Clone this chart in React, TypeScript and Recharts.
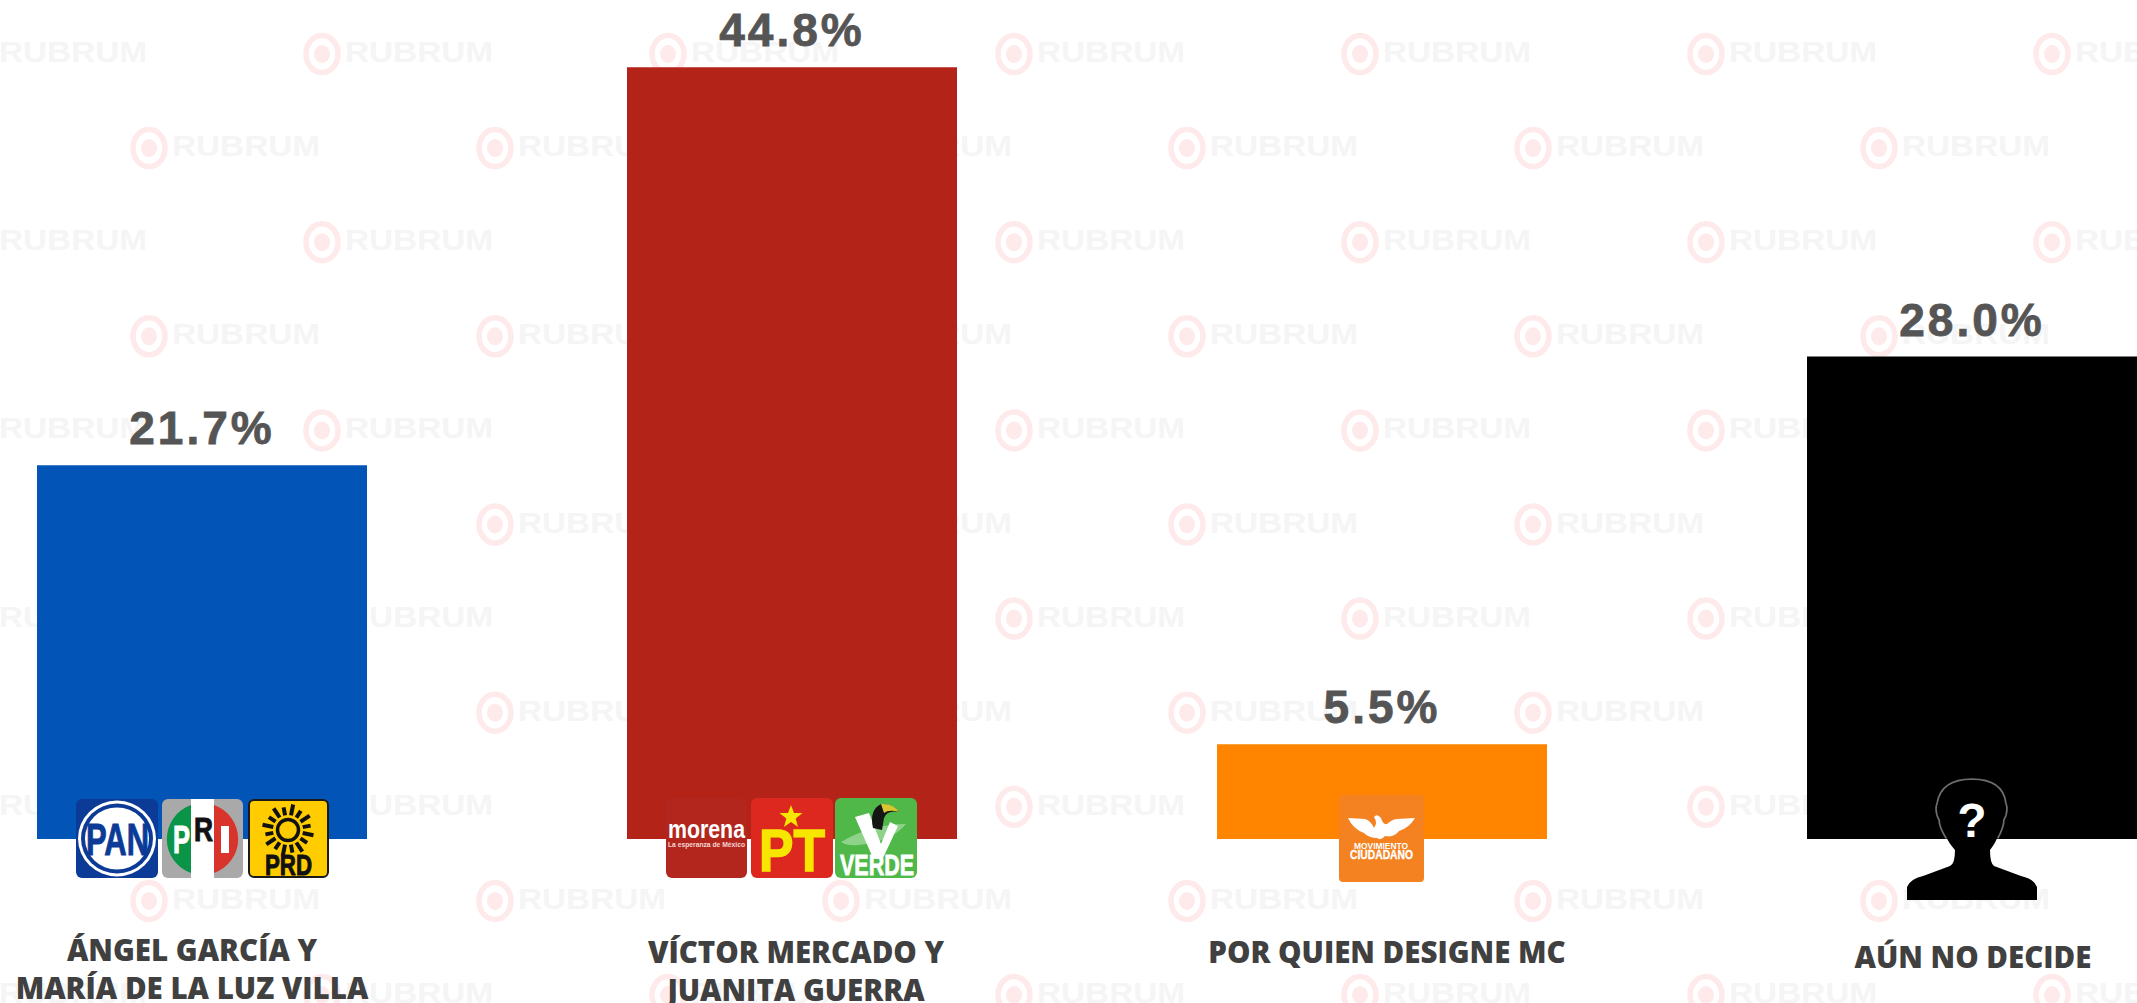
import { BarChart, Bar, Cell, XAxis, YAxis, LabelList, Customized } from 'recharts'

const categories = [
	'ÁNGEL GARCÍA Y\nMARÍA DE LA LUZ VILLA',
	'VÍCTOR MERCADO Y\nJUANITA GUERRA',
	'POR QUIEN DESIGNE MC',
	'AÚN NO DECIDE'
]
const values = [21.7, 44.8, 5.5, 28.0]
const barColors = ['#0255b7', '#b42318', '#ff8500', '#000000']

const data = categories.map((name, i) => ({ name, value: values[i] }))

// label placement differs per candidate in the original image
const labelShift = [-10, 4, 5, 1]
const labelBaseline = [122, 124, 124, 129]

const sans = '"Liberation Sans", Arial, sans-serif'
const heading = '"Open Sans", sans-serif'

const wmRows = [0, 1, 2, 3, 4, 5, 6, 7, 8, 9, 10]
const wmCols = [-1, 0, 1, 2, 3, 4, 5, 6]

function Watermark() {
	return (
		<g transform='translate(93,0)'>
			{wmRows.map(r =>
				wmCols.map(c => {
					const x = (r % 2 === 0 ? 322 : 149) + c * 346
					const y = 54 + r * 94.1
					return (
						<g key={r + '-' + c} transform={`translate(${x},${y})`}>
							<ellipse rx={16} ry={18.5} fill='none' stroke='#feeaea' strokeWidth={5.5} />
							<ellipse rx={8} ry={9} fill='#feeaea' />
							<text
								x={23}
								y={8}
								fontFamily={sans}
								fontSize={30}
								fontWeight={700}
								fill='#f5f5f5'
								textLength={148}
								lengthAdjust='spacingAndGlyphs'
							>
								RUBRUM
							</text>
						</g>
					)
				})
			)}
		</g>
	)
}

function Squeezed({ x, y, w, size, fill, heavy = 0, children }: any) {
	return (
		<text
			x={x}
			y={y}
			fontFamily={sans}
			fontSize={size}
			fontWeight={700}
			fill={fill}
			stroke={heavy ? fill : 'none'}
			strokeWidth={heavy}
			textLength={w}
			lengthAdjust='spacingAndGlyphs'
		>
			{children}
		</text>
	)
}

function PanLogo() {
	return (
		<g>
			<rect width={82} height={79} rx={6} fill='#0b3a97' />
			<ellipse cx={41} cy={39.5} rx={39} ry={38} fill='#fff' />
			<ellipse cx={41} cy={39.5} rx={36} ry={35} fill='#0b3a97' />
			<ellipse cx={41} cy={39.5} rx={32} ry={31} fill='#fff' />
			<Squeezed x={10} y={56} w={63} size={45} fill='#0b3a97' heavy={1}>PAN</Squeezed>
		</g>
	)
}

function PriLogo() {
	return (
		<g>
			<rect width={81} height={79} rx={6} fill='#a9a9a9' />
			<path d='M29,6 A36,36 0 0 0 29,74 Z' fill='#0a9447' />
			<path d='M52,6 A36,36 0 0 1 52,74 Z' fill='#d9342b' />
			<rect x={29} width={23} height={79} fill='#fff' />
			<Squeezed x={11} y={54} w={17} size={38} fill='#fff' heavy={1}>P</Squeezed>
			<Squeezed x={32} y={42} w={19} size={33} fill='#111' heavy={1}>R</Squeezed>
			<rect x={59} y={27} width={8} height={27} fill='#fff' />
		</g>
	)
}

const sunRays = [0, 1, 2, 3, 4, 5, 6, 7, 8, 9, 10, 11, 12, 13, 14, 15]

function PrdLogo() {
	return (
		<g>
			<rect x={1} y={1} width={79} height={77} rx={5} fill='#ffcc00' stroke='#1a1a1a' strokeWidth={2} />
			<circle cx={40} cy={31} r={10.5} fill='none' stroke='#111' strokeWidth={3.5} />
			{sunRays.map(i => {
				const a = (i * Math.PI) / 8 + 0.2
				const long = i % 2 === 0 ? 26 : 23
				return (
					<line
						key={i}
						x1={40 + 15 * Math.cos(a)}
						y1={31 + 15 * Math.sin(a)}
						x2={40 + long * Math.cos(a)}
						y2={31 + long * Math.sin(a)}
						stroke='#111'
						strokeWidth={4}
					/>
				)
			})}
			<Squeezed x={17} y={76} w={47} size={29} fill='#111' heavy={1}>PRD</Squeezed>
		</g>
	)
}

function MorenaLogo() {
	return (
		<g>
			<rect width={81} height={80} rx={6} fill='#b3261e' />
			<Squeezed x={2} y={40} w={77} size={26} fill='#fff'>morena</Squeezed>
			<Squeezed x={2} y={49} w={77} size={7.5} fill='#f3d6d3'>La esperanza de México</Squeezed>
		</g>
	)
}

function PtLogo() {
	return (
		<g>
			<rect width={82} height={80} rx={6} fill='#dc281e' />
			<polygon
				points='40,7 43,15 51.5,15 44.7,20.5 47,29 40,24 33,29 35.3,20.5 28.5,15 37,15'
				fill='#f7e600'
			/>
			<Squeezed x={8} y={73} w={66} size={60} fill='#f7e600' heavy={1.5}>PT</Squeezed>
		</g>
	)
}

function VerdeLogo() {
	return (
		<g>
			<rect width={82} height={80} rx={6} fill='#4fb848' />
			<path d='M6,44 Q36,26 71,26 Q56,44 24,47 Q12,48 6,44 Z' fill='#8fd38a' />
			<polygon points='20,19 34,15 46,46 55,24 63,28 48,60 38,60' fill='#fff' />
			<path d='M38,30 Q34,12 46,6 Q58,6 64,14 Q52,12 49,20 L47,32 Z' fill='#151515' />
			<path d='M46,6 Q58,5 64,14 Q54,11 49,15 Z' fill='#d8c531' />
			<Squeezed x={5} y={77} w={74} size={30} fill='#fff' heavy={0.8}>VERDE</Squeezed>
		</g>
	)
}

function McLogo() {
	return (
		<g>
			<rect width={85} height={87} rx={4} fill='#f58220' />
			<path
				d='M9,23 L26,24 Q32,26 35,33 Q39,28 35,22 Q38,18 42,23 Q44,30 48,29 Q54,24 58,24 L76,23 Q70,33 60,36 Q55,43 46,41 Q42,46 38,43 Q30,43 25,38 Q14,34 9,23 Z'
				fill='#fff'
			/>
			<Squeezed x={15} y={54} w={54} size={9} fill='#fff'>MOVIMIENTO</Squeezed>
			<Squeezed x={11} y={64} w={63} size={12} fill='#fff' heavy={0.3}>CIUDADANO</Squeezed>
		</g>
	)
}

function Silhouette() {
	return (
		<g>
			<path
				d='M-25,-1 Q-32,-12 -32,-19 Q-37,-28 -34,-36 Q-30,-59 0,-59 Q30,-59 33,-36 Q36,-28 31,-19 Q31,-12 25,-1'
				fill='none'
				stroke='#6e6e6e'
				strokeWidth={3.5}
			/>
			<path
				d='M-65,61 L-65,48 Q-62,40 -49,37 L-22,27 Q-17,25 -17,11 Q-24,3 -25,-1 Q-32,-12 -32,-19 Q-37,-28 -34,-36 Q-30,-59 0,-59 Q30,-59 33,-36 Q36,-28 31,-19 Q31,-12 25,-1 Q24,3 18,11 Q18,24 22,27 L49,37 Q62,40 65,48 L65,61 Z'
				fill='#000'
			/>
			<text x={0} y={-2} textAnchor='middle' fontFamily={sans} fontWeight={700} fontSize={48} fill='#fff'>
				?
			</text>
		</g>
	)
}

function CandidateTick({ x, y, payload, index }: any) {
	const lines = String(payload.value).split('\n')
	return (
		<g transform={`translate(${x},${y})`}>
			{index === 0 && (
				<g>
					<g transform='translate(-126,-40)'><PanLogo /></g>
					<g transform='translate(-40,-40)'><PriLogo /></g>
					<g transform='translate(46,-40)'><PrdLogo /></g>
				</g>
			)}
			{index === 1 && (
				<g>
					<g transform='translate(-126,-41)'><MorenaLogo /></g>
					<g transform='translate(-41,-41)'><PtLogo /></g>
					<g transform='translate(43,-41)'><VerdeLogo /></g>
				</g>
			)}
			{index === 2 && (
				<g transform='translate(-43,-44)'><McLogo /></g>
			)}
			{index === 3 && <Silhouette />}
			{lines.map((line, i) => (
				<text
					key={line}
					x={labelShift[index]}
					y={labelBaseline[index] + i * 38}
					textAnchor='middle'
					fontFamily={heading}
					fontWeight={800}
					fontSize={29.5}
					fill='#404040'
				>
					{line}
				</text>
			))}
		</g>
	)
}

export default function App() {
	return (
		<div
			style={{
				position: 'absolute',
				left: 0,
				top: 0,
				width: 2137,
				height: 1003,
				overflow: 'hidden',
				background: '#fff'
			}}
		>
			<div style={{ position: 'absolute', left: -93, top: 0 }}>
				<BarChart
					width={2360}
					height={1003}
					data={data}
					margin={{ top: 12, right: 0, bottom: 0, left: 0 }}
				>
					<Customized component={Watermark} />
					<YAxis hide domain={[0, 48]} />
					<Bar dataKey='value' barSize={330} isAnimationActive={false}>
						{data.map((d, i) => (
							<Cell key={d.name} fill={barColors[i]} />
						))}
						<LabelList
							dataKey='value'
							position='top'
							offset={21}
							formatter={(v: any) => Number(v).toFixed(1) + '%'}
							fontFamily={sans}
							fontWeight={700}
							fontSize={46}
							letterSpacing={3}
							stroke='#555555'
							strokeWidth={0.8}
							fill='#555555'
						/>
					</Bar>
					<XAxis
						dataKey='name'
						height={164}
						axisLine={false}
						tickLine={false}
						tickSize={0}
						tickMargin={0}
						interval={0}
						tick={<CandidateTick />}
					/>
				</BarChart>
			</div>
		</div>
	)
}
